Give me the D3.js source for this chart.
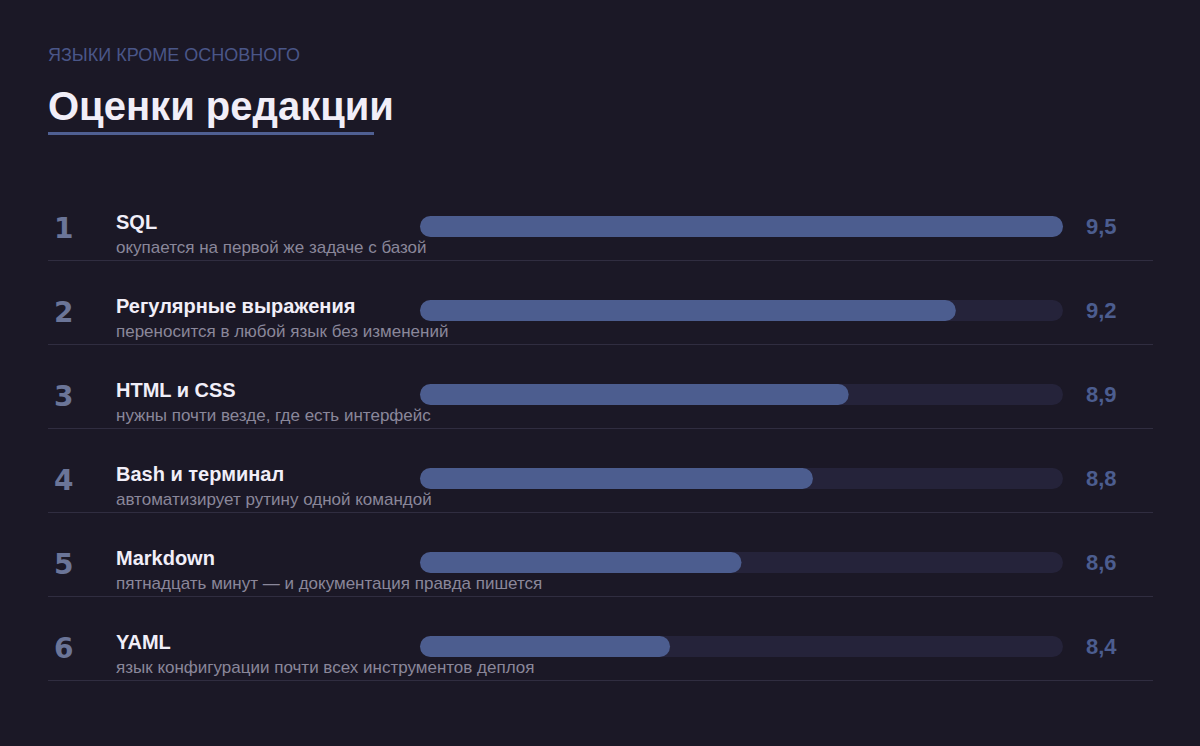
<!DOCTYPE html><html><head><meta charset="utf-8"><script src="https://cdn.jsdelivr.net/npm/d3@7"></script>
<style>body{margin:0;background:#1b1826}</style></head><body><svg id="c" width="1200" height="746"></svg>
<script>
const names=["SQL","Регулярные выражения","HTML и CSS","Bash и терминал","Markdown","YAML"];
const descs=["окупается на первой же задаче с базой","переносится в любой язык без изменений","нужны почти везде, где есть интерфейс","автоматизирует рутину одной командой","пятнадцать минут — и документация правда пишется","язык конфигурации почти всех инструментов деплоя"];
const scores=[9.5,9.2,8.9,8.8,8.6,8.4];
const svg=d3.select("#c");
const F="'Liberation Sans',Arial,sans-serif";
svg.append("rect").attr("width",1200).attr("height",746).attr("fill","#1b1826");
svg.append("text").attr("x",48).attr("y",61).attr("font-family",F).attr("font-size",18).attr("fill","#4a5688").text("ЯЗЫКИ КРОМЕ ОСНОВНОГО");
svg.append("text").attr("x",48).attr("y",120).attr("font-family",F).attr("font-size",40).attr("font-weight","bold").attr("fill","#f1eef8").text("Оценки редакции");
svg.append("rect").attr("x",48).attr("y",132).attr("width",326).attr("height",3).attr("fill","#4f5f92");
const x=d3.scaleLinear().domain([7.7,9.5]).range([420,1063]);
const y=d3.scaleBand().domain(d3.range(6)).range([184,688]);
const g=svg.selectAll("g.r").data(names).join("g").attr("transform",(d,i)=>`translate(0,${y(i)})`);
g.append("text").attr("x",54).attr("y",54).attr("font-family","'DejaVu Sans',sans-serif").attr("font-weight","bold").attr("font-size",28).attr("fill","#6b7598").text((d,i)=>i+1);
g.append("text").attr("x",116).attr("y",45).attr("font-family",F).attr("font-weight","bold").attr("font-size",20).attr("fill","#f1eef8").text(d=>d);
g.append("text").attr("x",116).attr("y",69).attr("font-family",F).attr("font-size",17).attr("fill","#8a879a").text((d,i)=>descs[i]);
g.append("rect").attr("x",420).attr("y",32).attr("height",21).attr("rx",10.5).attr("width",x(9.5)-420).attr("fill","#25233a");
g.append("rect").attr("x",420).attr("y",32).attr("height",21).attr("rx",10.5).attr("width",(d,i)=>x(scores[i])-420).attr("fill","#4c5d8f");
g.append("text").attr("x",1086).attr("y",50).attr("font-family",F).attr("font-weight","bold").attr("font-size",22).attr("fill","#4c5d8f").text((d,i)=>d3.format(".1f")(scores[i]).replace(".",","));
g.append("rect").attr("x",48).attr("y",76).attr("width",1105).attr("height",1).attr("fill","#302d40");
</script></body></html>
